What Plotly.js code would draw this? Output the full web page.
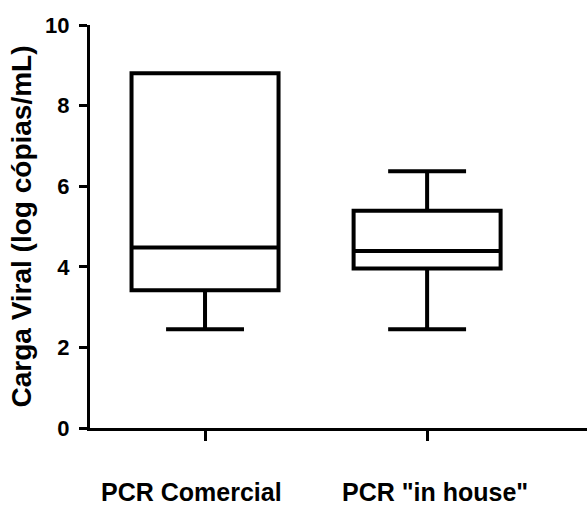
<!DOCTYPE html>
<html>
<head>
<meta charset="utf-8">
<script src="https://cdn.plot.ly/plotly-3.0.1.min.js"></script>
<style>html,body{margin:0;padding:0;background:#fff;}#chart{width:587px;height:506px;}</style>
</head>
<body>
<div id="chart"></div>
<script>
const categories = ['PCR Comercial', 'PCR "in house"'];
const positions = [0, 1];
const lowerFence = [2.45, 2.45];
const q1 = [3.42, 3.96];
const median = [4.48, 4.39];
const q3 = [8.8, 5.39];
const upperFence = [8.8, 6.37];
const yTicks = [0, 2, 4, 6, 8, 10];

const FONT = 'Liberation Sans, Arial, sans-serif';

const trace = {
  type: 'box',
  x: positions,
  q1: q1,
  median: median,
  q3: q3,
  lowerfence: lowerFence,
  upperfence: upperFence,
  width: 0.662,
  whiskerwidth: 0.53,
  fillcolor: '#ffffff',
  line: {color: '#000000', width: 4},
  hoverinfo: 'skip',
  showlegend: false
};

const annotations = categories.map((c, i) => ({
  text: '<b>' + c + '</b>',
  xref: 'paper', yref: 'paper',
  x: [0.2043, 0.6932][i],
  y: -0.158,
  xanchor: 'center', yanchor: 'middle',
  showarrow: false,
  font: {family: FONT, size: 25, color: '#000'}
}));

const layout = {
  width: 587, height: 506,
  margin: {l: 90, r: 0, t: 25, b: 78},
  paper_bgcolor: '#fff', plot_bgcolor: '#fff',
  xaxis: {
    range: [-0.518, 1.72],
    tickvals: positions,
    showticklabels: false,
    showgrid: false, zeroline: false,
    showline: true, linecolor: '#000', linewidth: 3,
    ticks: 'outside', ticklen: 10, tickwidth: 3, tickcolor: '#000',
    fixedrange: true
  },
  yaxis: {
    range: [0, 10],
    tickvals: yTicks,
    ticktext: yTicks.map(v => '<b>' + v + '</b>'),
    showgrid: false, zeroline: false,
    showline: true, linecolor: '#000', linewidth: 3,
    ticks: 'outside', ticklen: 8, tickwidth: 3, tickcolor: '#000',
    ticklabelstandoff: 5,
    tickfont: {family: FONT, size: 22, color: '#000'},
    title: {text: '<b>Carga Viral (log cópias/mL)</b>', standoff: 6,
            font: {family: FONT, size: 28, color: '#000'}},
    fixedrange: true
  },
  annotations: annotations
};

Plotly.newPlot('chart', [trace], layout, {displayModeBar: false, staticPlot: true});
</script>
</body>
</html>
